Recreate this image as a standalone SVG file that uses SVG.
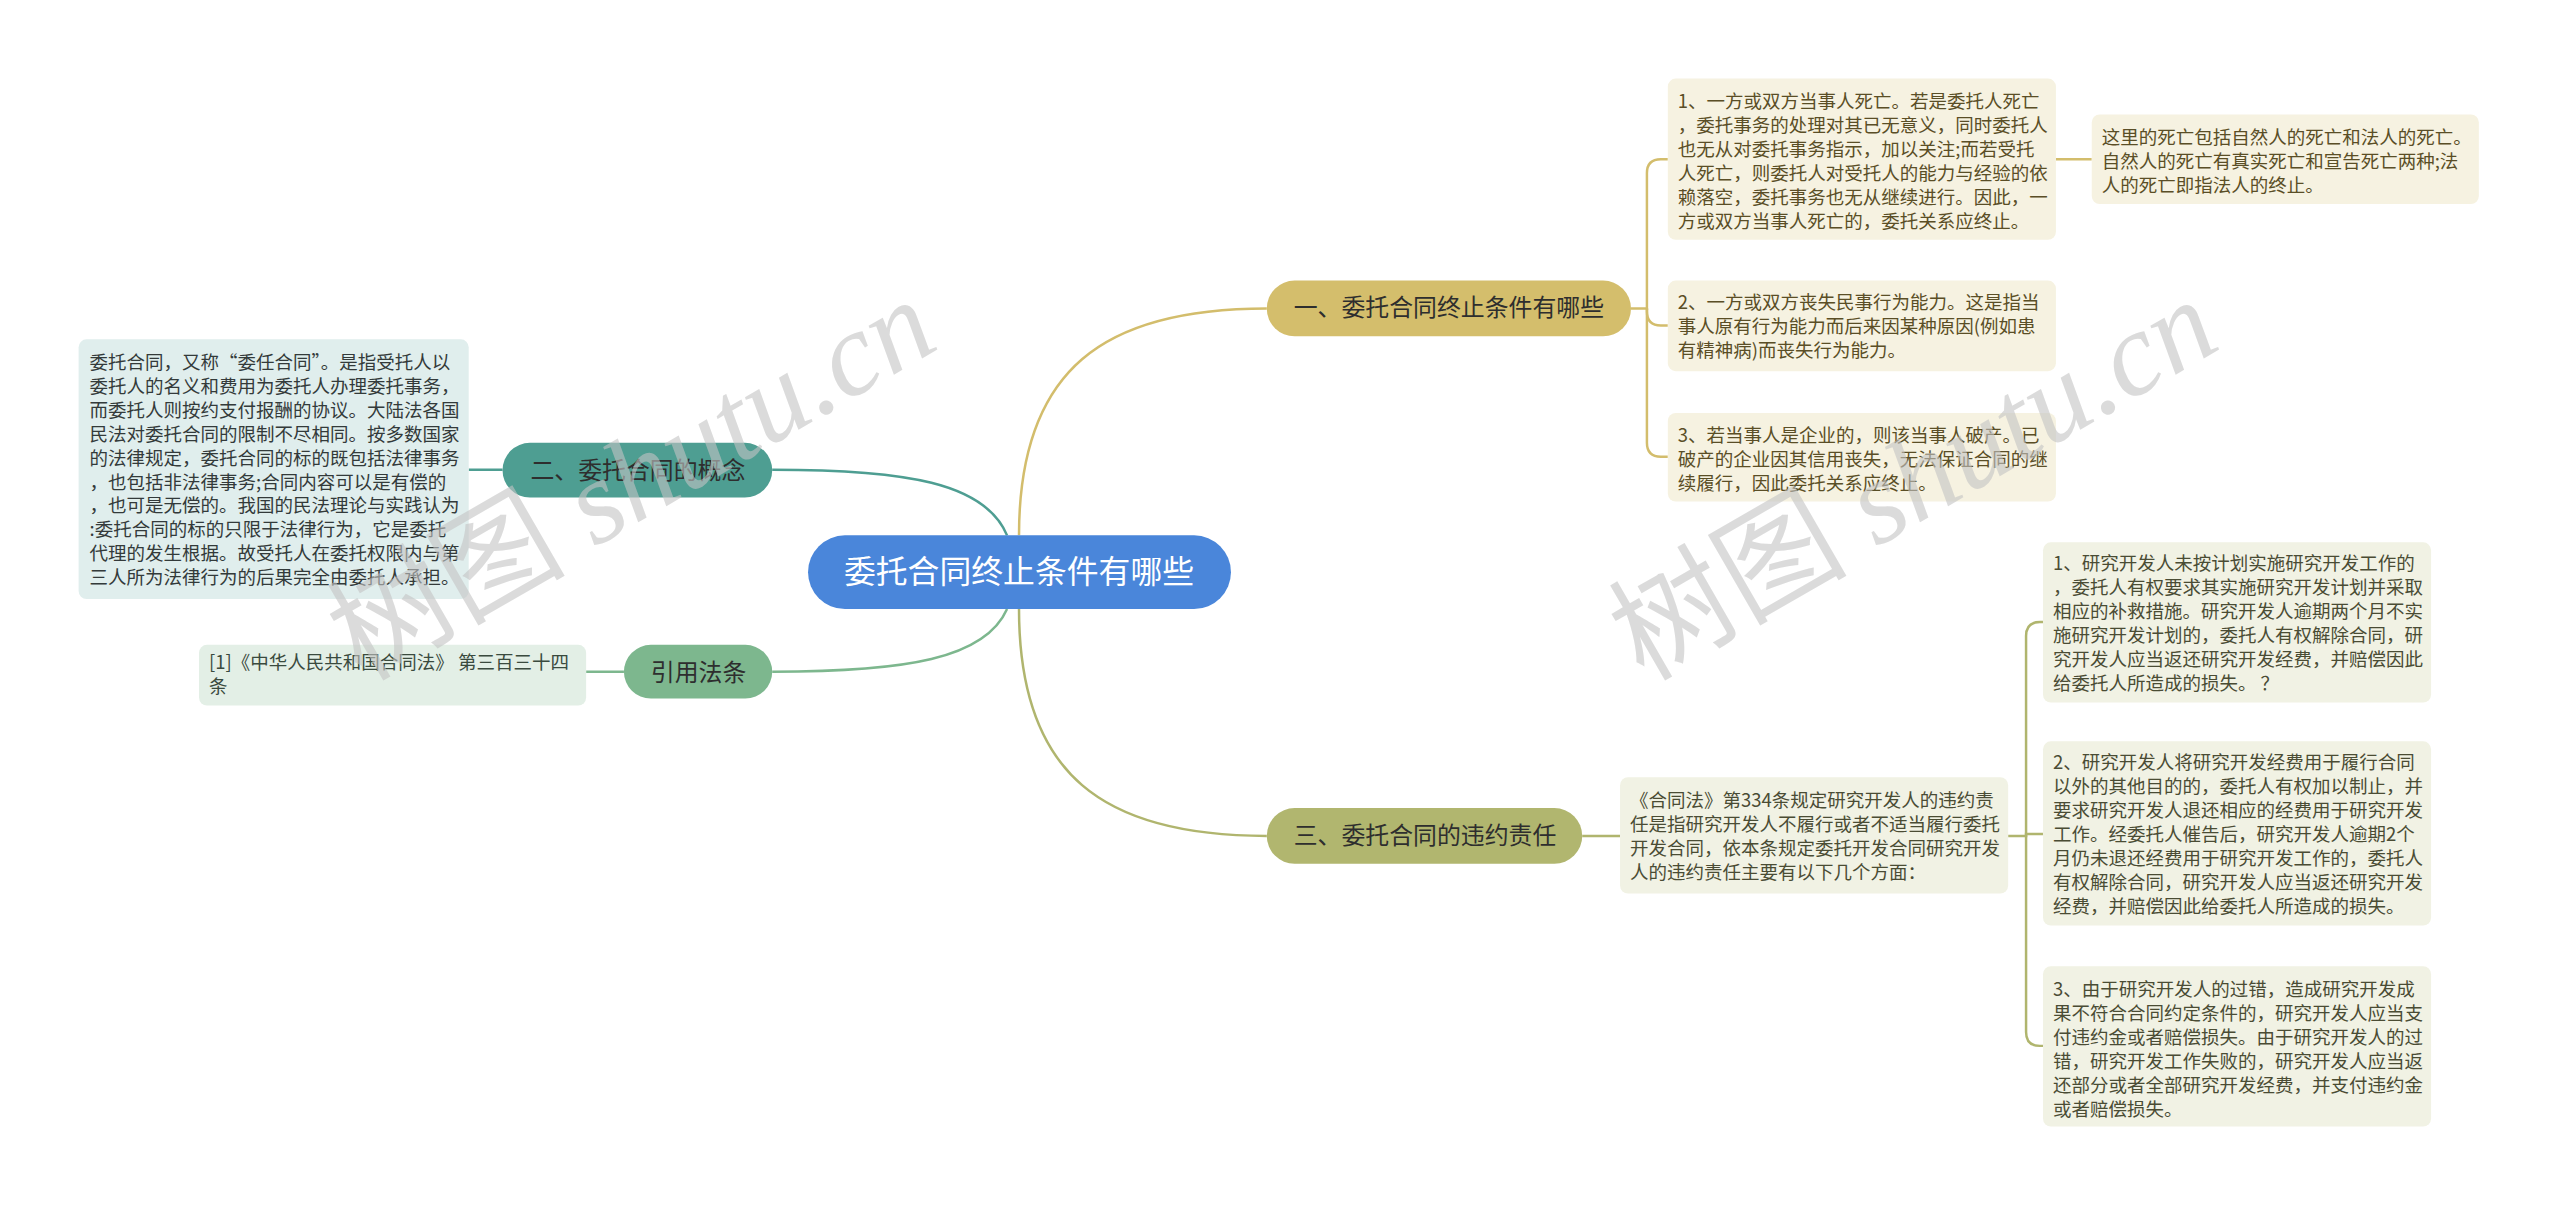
<svg xmlns="http://www.w3.org/2000/svg" width="2560" height="1209" viewBox="0 0 2560 1209">
<style>
.t{font-family:"Noto Sans CJK SC","Liberation Sans",sans-serif;font-size:18.6px;fill:#3a3a3a}
.ty{fill:#5a4e26}
.to{fill:#4a4c34}
.tg{fill:#333a3a}
.tm{fill:#3a4a3e}
.b{font-family:"Noto Sans CJK SC","Liberation Sans",sans-serif;font-size:24px;fill:#2e2e2e;text-anchor:middle}
.c{font-family:"Noto Sans CJK SC","Liberation Sans",sans-serif;font-size:32px;fill:#ffffff;text-anchor:middle}
.wm{font-family:"Liberation Serif","Noto Sans CJK SC",serif;font-size:120px;fill:#c4c4c4;opacity:0.6}
.ln{fill:none;stroke-width:2.5}
.y{stroke:#d3bd6c}.o{stroke:#b0b56e}.g{stroke:#4e9e92}.m{stroke:#7db78e}
</style>
<rect width="2560" height="1209" fill="#ffffff"/>
<g transform="scale(0.99512)">
<g id="connectors">
<path class="ln y" d="M1024,538 C1024,370 1110,310 1273,310"/>
<path class="ln o" d="M1024,612 C1024,780 1110,840 1273,840"/>
<path class="ln g" d="M1012,538 C990,485 910,472 776,472"/>
<path class="ln m" d="M1012,612 C990,662 910,675 776,675"/>
<path class="ln g" d="M505,472 H471"/>
<path class="ln m" d="M627,675 H589"/>
<path class="ln y" d="M1639,310 H1655 V174 Q1655,160 1669,160 H1676"/>
<path class="ln y" d="M1655,310 V313 Q1655,327 1669,327 H1676"/>
<path class="ln y" d="M1655,310 V445 Q1655,459 1669,459 H1676"/>
<path class="ln y" d="M2066,160 H2102"/>
<path class="ln o" d="M1590,840 H1628"/>
<path class="ln o" d="M2018,840 H2036 V639 Q2036,625 2050,625 H2053"/>
<path class="ln o" d="M2036,840 V838 H2053"/>
<path class="ln o" d="M2036,840 V1037 Q2036,1051 2050,1051 H2053"/>
</g>
<g id="root">
<rect x="812" y="538" width="425" height="74" rx="37" fill="#4a86da"/>
<text class="c" x="1024" y="586">委托合同终止条件有哪些</text>
</g>
<g id="b1">
<rect x="1273" y="282" width="366" height="56" rx="28" fill="#d4be6c"/>
<text class="b" x="1456" y="318">一、委托合同终止条件有哪些</text>
</g>
<g id="b3">
<rect x="1273" y="812" width="317" height="56" rx="28" fill="#b1b66f"/>
<text class="b" x="1432" y="848">三、委托合同的违约责任</text>
</g>
<g id="b2">
<rect x="505" y="445" width="271" height="55" rx="27.5" fill="#4e9e92"/>
<text class="b" x="641" y="481">二、委托合同的概念</text>
</g>
<g id="b4">
<rect x="627" y="648" width="149" height="54" rx="27" fill="#7db78e"/>
<text class="b" x="702" y="684">引用法条</text>
</g>
<g id="concept">
<rect x="79" y="341" width="392" height="261" rx="8" fill="#e0eeed"/>
<text class="t tg" x="90" y="371">委托合同，又称“委任合同”。是指受托人以</text>
<text class="t tg" x="90" y="395">委托人的名义和费用为委托人办理委托事务，</text>
<text class="t tg" x="90" y="419">而委托人则按约支付报酬的协议。大陆法各国</text>
<text class="t tg" x="90" y="443">民法对委托合同的限制不尽相同。按多数国家</text>
<text class="t tg" x="90" y="467">的法律规定，委托合同的标的既包括法律事务</text>
<text class="t tg" x="90" y="491">，也包括非法律事务;合同内容可以是有偿的</text>
<text class="t tg" x="90" y="515">，也可是无偿的。我国的民法理论与实践认为</text>
<text class="t tg" x="90" y="539">:委托合同的标的只限于法律行为，它是委托</text>
<text class="t tg" x="90" y="563">代理的发生根据。故受托人在委托权限内与第</text>
<text class="t tg" x="90" y="587">三人所为法律行为的后果完全由委托人承担。</text>
</g>
<g id="citation">
<rect x="200" y="648" width="389" height="61" rx="8" fill="#e3efe6"/>
<text class="t tm" x="210" y="672">[1]《中华人民共和国合同法》 第三百三十四</text>
<text class="t tm" x="210" y="696">条</text>
</g>
<g id="n1a">
<rect x="1676" y="79" width="390" height="162" rx="8" fill="#f6f2e1"/>
<text class="t ty" x="1686" y="109">1、一方或双方当事人死亡。若是委托人死亡</text>
<text class="t ty" x="1686" y="133">，委托事务的处理对其已无意义，同时委托人</text>
<text class="t ty" x="1686" y="157">也无从对委托事务指示，加以关注;而若受托</text>
<text class="t ty" x="1686" y="181">人死亡，则委托人对受托人的能力与经验的依</text>
<text class="t ty" x="1686" y="205">赖落空，委托事务也无从继续进行。因此，一</text>
<text class="t ty" x="1686" y="229">方或双方当事人死亡的，委托关系应终止。</text>
</g>
<g id="n1a1">
<rect x="2102" y="115" width="389" height="90" rx="8" fill="#f6f2e1"/>
<text class="t ty" x="2112" y="145">这里的死亡包括自然人的死亡和法人的死亡。</text>
<text class="t ty" x="2112" y="169">自然人的死亡有真实死亡和宣告死亡两种;法</text>
<text class="t ty" x="2112" y="193">人的死亡即指法人的终止。</text>
</g>
<g id="n1b">
<rect x="1676" y="282" width="390" height="91" rx="8" fill="#f6f2e1"/>
<text class="t ty" x="1686" y="311">2、一方或双方丧失民事行为能力。这是指当</text>
<text class="t ty" x="1686" y="335">事人原有行为能力而后来因某种原因(例如患</text>
<text class="t ty" x="1686" y="359">有精神病)而丧失行为能力。</text>
</g>
<g id="n1c">
<rect x="1676" y="415" width="390" height="89" rx="8" fill="#f6f2e1"/>
<text class="t ty" x="1686" y="444">3、若当事人是企业的，则该当事人破产。已</text>
<text class="t ty" x="1686" y="468">破产的企业因其信用丧失，无法保证合同的继</text>
<text class="t ty" x="1686" y="492">续履行，因此委托关系应终止。</text>
</g>
<g id="n3a">
<rect x="1628" y="781" width="390" height="117" rx="8" fill="#f1f2e4"/>
<text class="t to" x="1638" y="811">《合同法》第334条规定研究开发人的违约责</text>
<text class="t to" x="1638" y="835">任是指研究开发人不履行或者不适当履行委托</text>
<text class="t to" x="1638" y="859">开发合同，依本条规定委托开发合同研究开发</text>
<text class="t to" x="1638" y="883">人的违约责任主要有以下几个方面：</text>
</g>
<g id="n3a1">
<rect x="2053" y="545" width="390" height="161" rx="8" fill="#f1f2e4"/>
<text class="t to" x="2063" y="573">1、研究开发人未按计划实施研究开发工作的</text>
<text class="t to" x="2063" y="597">，委托人有权要求其实施研究开发计划并采取</text>
<text class="t to" x="2063" y="621">相应的补救措施。研究开发人逾期两个月不实</text>
<text class="t to" x="2063" y="645">施研究开发计划的，委托人有权解除合同，研</text>
<text class="t to" x="2063" y="669">究开发人应当返还研究开发经费，并赔偿因此</text>
<text class="t to" x="2063" y="693">给委托人所造成的损失。 ？</text>
</g>
<g id="n3a2">
<rect x="2053" y="745" width="390" height="185" rx="8" fill="#f1f2e4"/>
<text class="t to" x="2063" y="773">2、研究开发人将研究开发经费用于履行合同</text>
<text class="t to" x="2063" y="797">以外的其他目的的，委托人有权加以制止，并</text>
<text class="t to" x="2063" y="821">要求研究开发人退还相应的经费用于研究开发</text>
<text class="t to" x="2063" y="845">工作。经委托人催告后，研究开发人逾期2个</text>
<text class="t to" x="2063" y="869">月仍未退还经费用于研究开发工作的，委托人</text>
<text class="t to" x="2063" y="893">有权解除合同，研究开发人应当返还研究开发</text>
<text class="t to" x="2063" y="917">经费，并赔偿因此给委托人所造成的损失。</text>
</g>
<g id="n3a3">
<rect x="2053" y="971" width="390" height="161" rx="8" fill="#f1f2e4"/>
<text class="t to" x="2063" y="1001">3、由于研究开发人的过错，造成研究开发成</text>
<text class="t to" x="2063" y="1025">果不符合合同约定条件的，研究开发人应当支</text>
<text class="t to" x="2063" y="1049">付违约金或者赔偿损失。由于研究开发人的过</text>
<text class="t to" x="2063" y="1073">错，研究开发工作失败的，研究开发人应当返</text>
<text class="t to" x="2063" y="1097">还部分或者全部研究开发经费，并支付违约金</text>
<text class="t to" x="2063" y="1121">或者赔偿损失。</text>
</g>
<g id="watermarks">
<text class="wm" x="655" y="517" text-anchor="middle" transform="rotate(-30 655 517)">树图 <tspan font-style="italic">shutu.cn</tspan></text>
<text class="wm" x="1943" y="517" text-anchor="middle" transform="rotate(-30 1943 517)">树图 <tspan font-style="italic">shutu.cn</tspan></text>
</g>
</g>
</svg>
